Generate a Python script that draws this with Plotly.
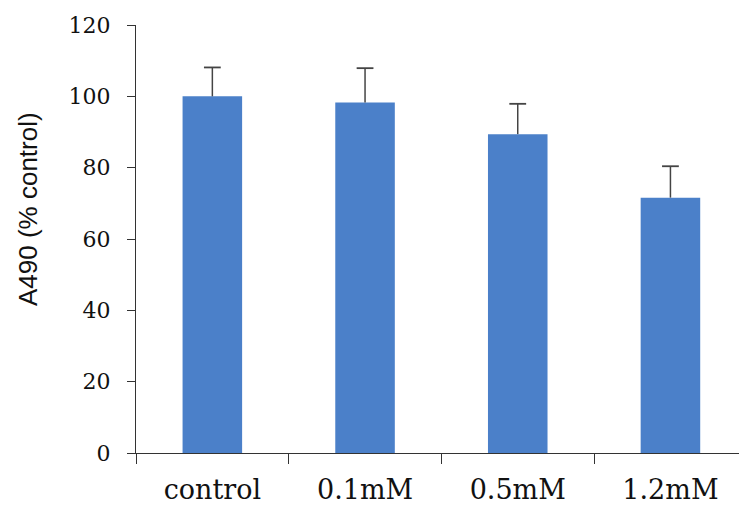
import plotly.graph_objects as go

# Cell viability (A490) relative to untreated control
categories = ["control", "0.1mM", "0.5mM", "1.2mM"]
mean_values = [100.0, 98.3, 89.4, 71.6]
sd_values = [8.1, 9.6, 8.5, 8.8]
y_ticks = [0, 20, 40, 60, 80, 100, 120]

bar_color = "#4b80c9"
axis_color = "#333333"
err_color = "#444444"
serif = "DejaVu Serif"

upper = [m + s for m, s in zip(mean_values, sd_values)]

fig = go.Figure()

# Bars with upward-only whiskers (no cap at the bar top)
fig.add_trace(
    go.Bar(
        x=categories,
        y=mean_values,
        width=0.39,
        marker=dict(color=bar_color, line=dict(width=0)),
        error_y=dict(
            type="data",
            array=sd_values,
            arrayminus=[0] * len(sd_values),
            symmetric=False,
            color=err_color,
            thickness=1.5,
            width=0,
        ),
    )
)

# Caps at the top of each whisker
fig.add_trace(
    go.Scatter(
        x=categories,
        y=upper,
        mode="markers",
        marker=dict(symbol="line-ew", size=12, line=dict(color=err_color, width=1.8)),
        hoverinfo="skip",
    )
)

fig.update_layout(
    width=739,
    height=508,
    margin=dict(l=136, r=0, t=25, b=55),
    paper_bgcolor="white",
    plot_bgcolor="white",
    showlegend=False,
    xaxis=dict(
        type="category",
        range=[-0.5, 3.449],
        showline=True,
        linecolor=axis_color,
        linewidth=1.2,
        ticks="outside",
        tickson="boundaries",
        ticklen=10,
        tickcolor=axis_color,
        tickwidth=1.2,
        showgrid=False,
        tickfont=dict(family=serif, size=27, color="#111111"),
        ticklabelstandoff=12,
    ),
    yaxis=dict(
        range=[0, 120],
        tickvals=y_ticks,
        showline=True,
        linecolor=axis_color,
        linewidth=1.2,
        ticks="outside",
        ticklen=8,
        tickcolor=axis_color,
        tickwidth=1.2,
        showgrid=False,
        zeroline=False,
        tickfont=dict(family=serif, size=22, color="#111111"),
        ticklabelstandoff=12,
    ),
    annotations=[
        dict(
            text="A490 (% control)",
            textangle=-90,
            xref="paper",
            yref="paper",
            x=(28 - 136) / 603,
            y=(453 - 209) / 428,
            xanchor="center",
            yanchor="middle",
            showarrow=False,
            font=dict(family="Liberation Sans", size=26, color="#111111"),
        )
    ],
)

fig.write_html("out.html")
